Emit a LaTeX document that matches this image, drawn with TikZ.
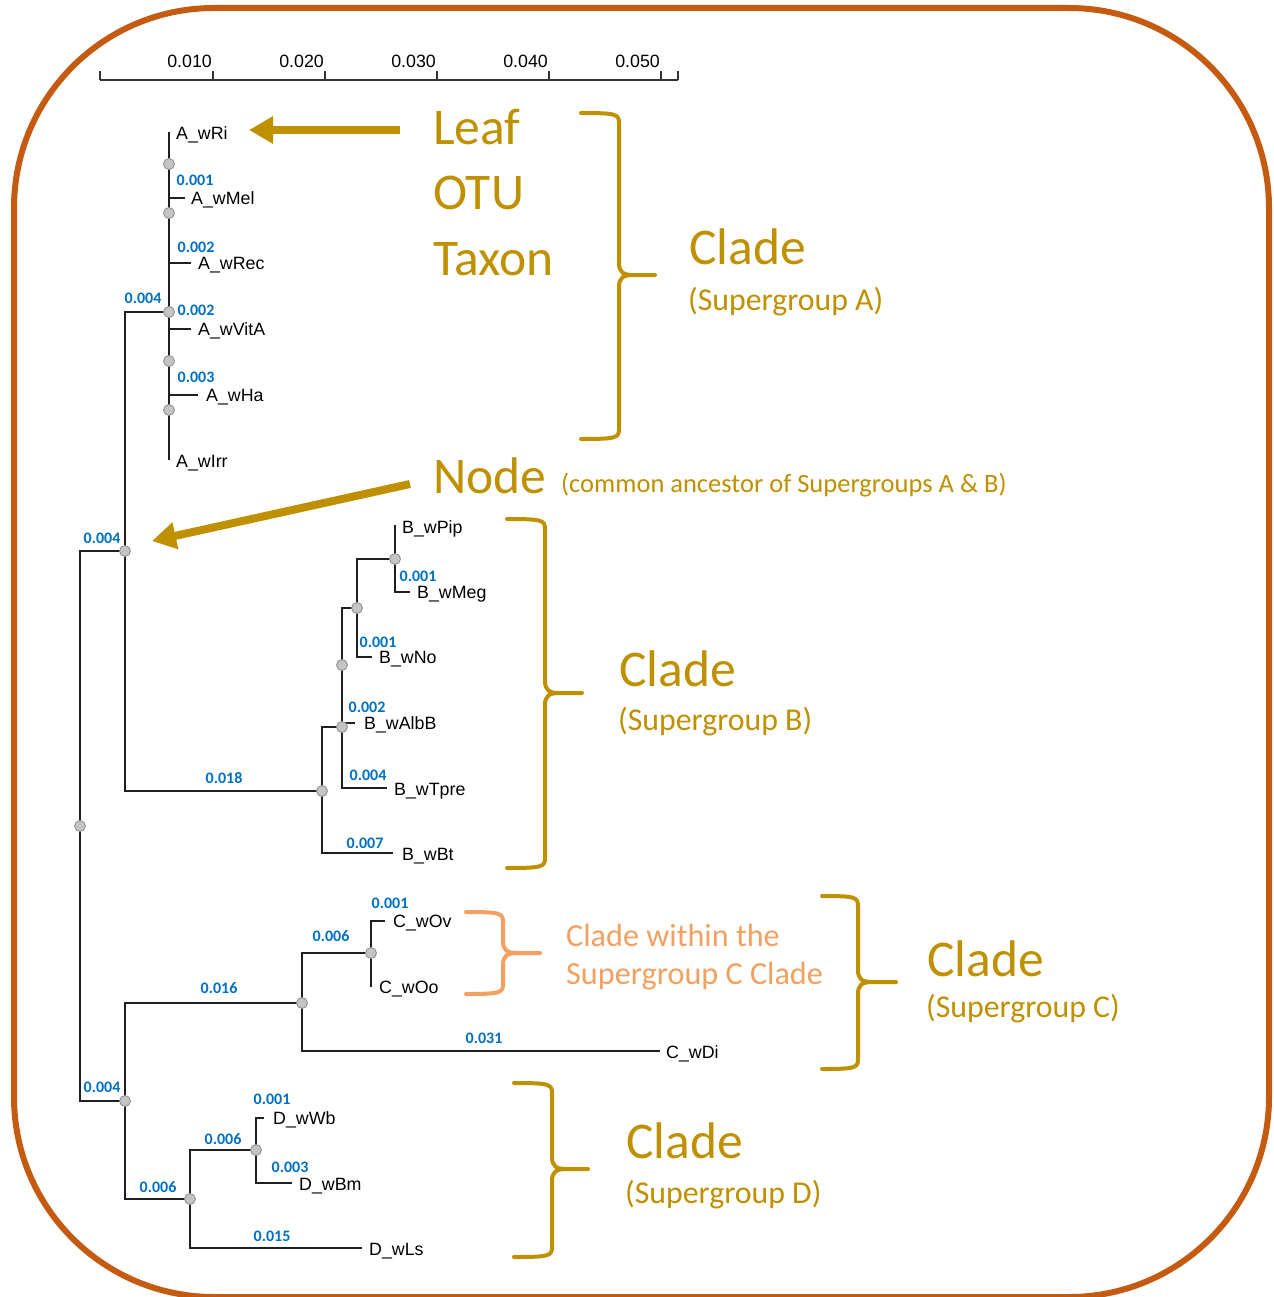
\documentclass[tikz,border=0pt]{standalone}
\usepackage{fontspec}
\newfontfamily\cali{Carlito}
\newfontfamily\arial{Liberation Sans}
\usetikzlibrary{arrows.meta}
\definecolor{gold}{HTML}{BF9000}
\definecolor{rust}{HTML}{C55A11}
\definecolor{peach}{HTML}{F4A060}
\definecolor{bl}{HTML}{0070C0}
\definecolor{ndgray}{HTML}{C4C4C4}
% color, x0, xv, xtip, ytop, ymid, ybot
\newcommand{\cbrace}[7]{%
  \draw[#1, line width=4pt, line cap=round, line join=round]
    (#2,#5) .. controls (#3-3,#5) and (#3,#5+1) .. (#3,#5+10) -- (#3,#6-12)
    .. controls (#3,#6-3) and (#3+4,#6) .. (#3+14,#6) -- (#4,#6);
  \draw[#1, line width=4pt, line cap=round, line join=round]
    (#3+14,#6) .. controls (#3+4,#6) and (#3,#6+3) .. (#3,#6+12) -- (#3,#7-10)
    .. controls (#3,#7-1) and (#3-3,#7) .. (#2,#7);
}
\begin{document}
\begin{tikzpicture}[x=1pt,y=-1pt,
  tree/.style={line width=1.8pt, draw=black!88, line join=miter},
  circ/.style={circle, fill=ndgray, draw=black!45, line width=0.8pt, minimum size=11pt, inner sep=0pt},
  leaflbl/.style={font=\arial\fontsize{17.8}{20}\selectfont, inner sep=0pt, anchor=west, text height=12.8pt, text depth=0pt},
  axlbl/.style={font=\arial\fontsize{17.8}{20}\selectfont, inner sep=0pt, anchor=base east},
  bnum/.style={font=\cali\bfseries\fontsize{16}{18}\selectfont, text=bl, inner sep=0pt, text height=10.3pt, text depth=0pt},
  goldbig/.style={font=\cali\fontsize{51.5}{60}\selectfont, text=gold, inner sep=0pt, anchor=base west},
  goldmid/.style={font=\cali\fontsize{31.8}{36}\selectfont, text=gold, inner sep=0pt, anchor=base west},
  peachtxt/.style={font=\cali\fontsize{32.2}{36}\selectfont, text=peach, inner sep=0pt, anchor=base west},
  goldarrow/.style={draw=gold, line width=8pt, -{Triangle[length=24pt,width=26pt]}}
]
\useasboundingbox (0,0) rectangle (1273,1297);
\fill[white] (0,0) rectangle (1273,1297);
\draw[rust, line width=6pt, rounded corners=200pt] (14,8) rectangle (1269,1297);

% ---------- axis ----------
\coordinate (ax0) at (100,80);
\coordinate (ax1) at (678,80);
\draw[line width=1.3pt, black!80] (ax0) -- (ax1);
\foreach \xx in {100,213,325,437,549,661,678} \draw[line width=1.3pt, black!80] (\xx,80) -- (\xx,71);
\node[axlbl] (t1) at (212,68) {0.010};
\node[axlbl] (t2) at (324,68) {0.020};
\node[axlbl] (t3) at (436,68) {0.030};
\node[axlbl] (t4) at (548,68) {0.040};
\node[axlbl] (t5) at (660,68) {0.050};

% ---------- tree coordinates ----------
\coordinate (root) at (80,826);
\coordinate (nAB) at (125,551);
\coordinate (nCD) at (125,1101);
\coordinate (nA) at (169,312);
\coordinate (aTop) at (169,132);
\coordinate (aBot) at (169,460);
\coordinate (aC1) at (169,164);
\coordinate (aC2) at (169,213);
\coordinate (aC4) at (169,361);
\coordinate (aC5) at (169,410);
\coordinate (lMel) at (185,198);
\coordinate (lRec) at (191,263);
\coordinate (lVitA) at (191,329);
\coordinate (lHa) at (198,395);
\coordinate (nB) at (322,791);
\coordinate (nB2) at (342,727);
\coordinate (nB2b) at (342,665);
\coordinate (nB3) at (357,608);
\coordinate (nB4) at (395,559);
\coordinate (lPip) at (395,525);
\coordinate (lMeg) at (410,592);
\coordinate (lNo) at (372,657);
\coordinate (lAlbB) at (355,723);
\coordinate (lTpre) at (387,788);
\coordinate (lBt) at (393,853);
\coordinate (nC) at (302,1003);
\coordinate (nC2) at (371,953);
\coordinate (lOv) at (385,921);
\coordinate (lOo) at (371,987);
\coordinate (lDi) at (660,1051);
\coordinate (nD) at (190,1199);
\coordinate (nD2) at (256,1150);
\coordinate (lWb) at (264,1118);
\coordinate (lBm) at (292,1183);
\coordinate (lLs) at (362,1248);

% ---------- tree edges ----------
\draw[tree] (nAB) -| (root) |- (nCD);
\draw[tree] (nA) -| (nAB) |- (nB);
\draw[tree] (aTop) -- (aBot);
\draw[tree] (lMel -| nA) -- (lMel);
\draw[tree] (lRec -| nA) -- (lRec);
\draw[tree] (lVitA -| nA) -- (lVitA);
\draw[tree] (lHa -| nA) -- (lHa);
\draw[tree] (nB2) -| (nB) |- (lBt);
\draw[tree] (nB3) -| (nB2) |- (lTpre);
\draw[tree] (lAlbB -| nB2) -- (lAlbB);
\draw[tree] (nB4) -| (nB3) |- (lNo);
\draw[tree] (lPip) -- (nB4) |- (lMeg);
\draw[tree] (nC) -| (nCD) |- (nD);
\draw[tree] (nC2) -| (nC) |- (lDi);
\draw[tree] (lOv) -| (nC2) -- (lOo);
\draw[tree] (nD2) -| (nD) |- (lLs);
\draw[tree] (lWb) -| (nD2) |- (lBm);

% ---------- node circles ----------
\foreach \c in {root,nAB,nCD,nA,aC1,aC2,aC4,aC5,nB,nB2,nB2b,nB3,nB4,nC,nC2,nD,nD2}
  \node[circ] at (\c) {};

% ---------- leaf labels ----------
\node[leaflbl] (wRi) at (176,133) {A\_wRi};
\node[leaflbl] (wMel) at (191,198) {A\_wMel};
\node[leaflbl] (wRec) at (198,263) {A\_wRec};
\node[leaflbl] (wVitA) at (198,329) {A\_wVitA};
\node[leaflbl] (wHa) at (206,395) {A\_wHa};
\node[leaflbl] (wIrr) at (176,461) {A\_wIrr};
\node[leaflbl] (wPip) at (402,527) {B\_wPip};
\node[leaflbl] (wMeg) at (417,592) {B\_wMeg};
\node[leaflbl] (wNo) at (379,657) {B\_wNo};
\node[leaflbl] (wAlbB) at (364,723) {B\_wAlbB};
\node[leaflbl] (wTpre) at (394,789) {B\_wTpre};
\node[leaflbl] (wBt) at (402,854) {B\_wBt};
\node[leaflbl] (wOv) at (393,921) {C\_wOv};
\node[leaflbl] (wOo) at (379,987) {C\_wOo};
\node[leaflbl] (wDi) at (666,1052) {C\_wDi};
\node[leaflbl] (wWb) at (273,1118) {D\_wWb};
\node[leaflbl] (wBm) at (299,1184) {D\_wBm};
\node[leaflbl] (wLs) at (369,1249) {D\_wLs};

% ---------- branch lengths ----------
\node[bnum] (bA) at (143,298) {0.004};
\node[bnum] (bMel) at (195,180) {0.001};
\node[bnum] (bRec) at (196,247) {0.002};
\node[bnum] (bVitA) at (196,310) {0.002};
\node[bnum] (bHa) at (196,377) {0.003};
\node[bnum] (bAB) at (102,538) {0.004};
\node[bnum] (bB) at (224,778) {0.018};
\node[bnum] (bMeg) at (418,576) {0.001};
\node[bnum] (bNo) at (378,642) {0.001};
\node[bnum] (bAlbB) at (367,707) {0.002};
\node[bnum] (bTpre) at (368,775) {0.004};
\node[bnum] (bBt) at (365,843) {0.007};
\node[bnum] (bC) at (219,988) {0.016};
\node[bnum] (bC2) at (331,936) {0.006};
\node[bnum] (bOv) at (390,903) {0.001};
\node[bnum] (bDi) at (484,1038) {0.031};
\node[bnum] (bCD) at (102,1087) {0.004};
\node[bnum] (bD) at (158,1187) {0.006};
\node[bnum] (bD2) at (223,1139) {0.006};
\node[bnum] (bWb) at (272,1099) {0.001};
\node[bnum] (bBm) at (290,1167) {0.003};
\node[bnum] (bLs) at (272,1236) {0.015};

% ---------- annotations ----------
\node[goldbig] (leaf) at (433,145) {Leaf};
\node[goldbig] (otu) at (433,210) {OTU};
\node[goldbig] (taxon) at (433,275) {Taxon};
\coordinate (ar1s) at (400,130);
\coordinate (ar1e) at (249,130);
\draw[goldarrow] (ar1s) -- (ar1e);

\node[goldbig] (nodeT) at (433,493) {Node};
\node[font=\cali\fontsize{26.5}{30}\selectfont, text=gold, inner sep=0pt, anchor=base west] (nodeP) at (561,492) {(common ancestor of Supergroups A \& B)};
\coordinate (ar2s) at (410,484);
\coordinate (ar2e) at (152,541);
\draw[goldarrow] (ar2s) -- (ar2e);

\cbrace{gold}{581}{619}{655}{113}{275}{439}
\node[goldbig] (cA) at (689,265) {Clade};
\node[goldmid] (sA) at (688,310) {(Supergroup A)};

\cbrace{gold}{507}{545}{582}{519}{693}{868}
\node[goldbig] (cB) at (619,686) {Clade};
\node[goldmid] (sB) at (618,730) {(Supergroup B)};

\cbrace{peach}{466}{503}{540}{912}{953}{994}
\node[peachtxt] (w1) at (566,946) {Clade within the};
\node[peachtxt] (w2) at (566,984) {Supergroup C Clade};

\cbrace{gold}{822}{858}{896}{896}{982}{1069}
\node[goldbig] (cC) at (927,976) {Clade};
\node[goldmid] (sC) at (926,1017) {(Supergroup C)};

\cbrace{gold}{514}{552}{588}{1083}{1169}{1257}
\node[goldbig] (cD) at (626,1158) {Clade};
\node[goldmid] (sD) at (625,1203) {(Supergroup D)};
\end{tikzpicture}
\end{document}
